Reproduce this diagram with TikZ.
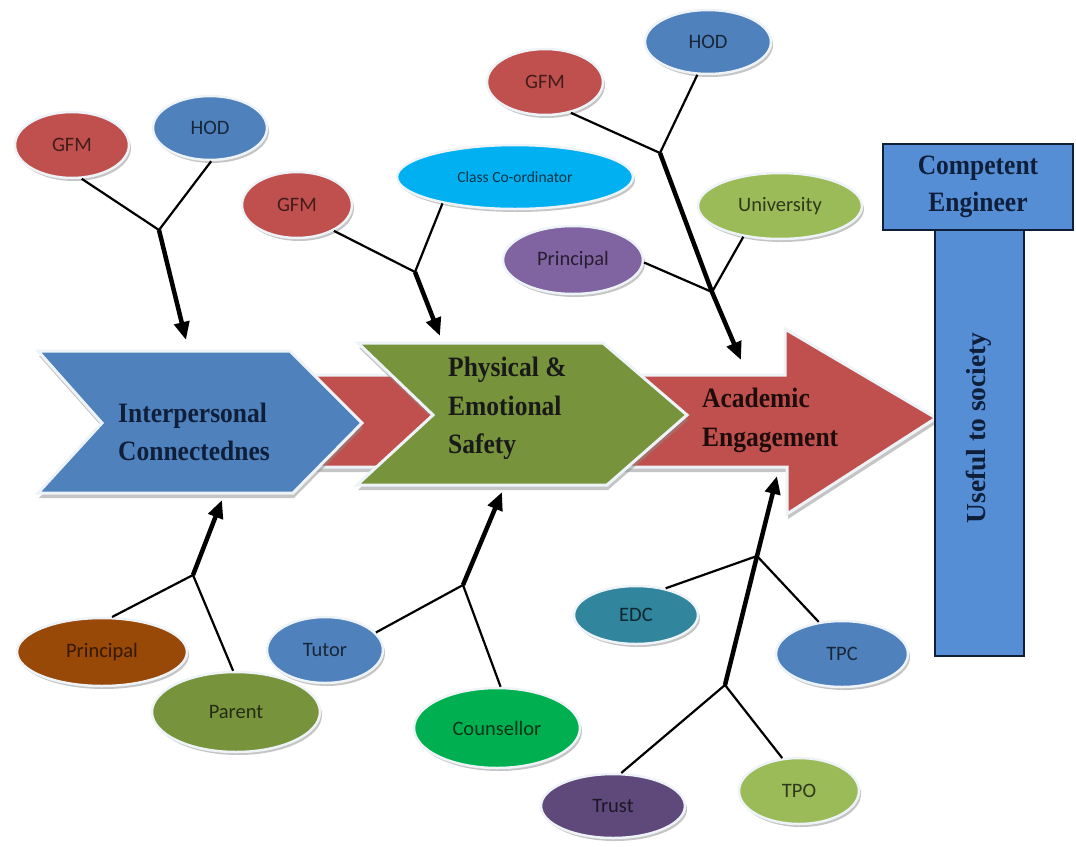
\documentclass[tikz,border=0pt]{standalone}
\usepackage{fontspec}
\setmainfont{Liberation Serif}
\newfontfamily\calib{Carlito}
\usetikzlibrary{shapes.geometric,arrows.meta,shadows}
\definecolor{cred}{HTML}{C0504D}
\definecolor{cblue}{HTML}{4F81BD}
\definecolor{ccyan}{HTML}{00B0F0}
\definecolor{cpurple}{HTML}{8064A2}
\definecolor{clime}{HTML}{9BBB59}
\definecolor{cbrown}{HTML}{984807}
\definecolor{colive}{HTML}{77933C}
\definecolor{cgreen}{HTML}{00B050}
\definecolor{cteal}{HTML}{31859C}
\definecolor{cplum}{HTML}{5F497A}
\definecolor{cbox}{HTML}{558ED5}
\definecolor{cnavy}{HTML}{0F1F3A}
\definecolor{cedge}{HTML}{EEF3F8}
\newcommand{\tall}[1]{\scalebox{1}[1.1]{#1}}
\begin{document}
\begin{tikzpicture}[x=1pt,y=-1pt,
  bub/.style={ellipse, draw=cedge, line width=2.5pt, inner sep=0pt,
    font=\calib\fontsize{20.5}{22}\selectfont,
    drop shadow={shadow xshift=2pt, shadow yshift=-3pt, fill=black!45, opacity=0.5}},
  twig/.style={line width=2.2pt, black},
  trunk/.style={line width=4.5pt, black, -{Triangle[length=18pt,width=15pt]}},
  block/.style={draw=cedge, line width=3pt,
    drop shadow={shadow xshift=1pt, shadow yshift=-5pt, fill=black!45, opacity=0.5}},
  lbl/.style={font=\bfseries\fontsize{25.5}{30}\selectfont, anchor=base west, inner sep=0pt},
  tbox/.style={draw=cnavy, line width=1.2pt, fill=cbox, inner sep=0pt}
]
\useasboundingbox (0,0) rectangle (1076,846);

% ---- block arrows ----
\path[block, fill=cred] (300,375) -- (785,375) -- (785,329) -- (936,418) -- (787,514) -- (787,467) -- (300,467) -- cycle;
\path[block, fill=cblue] (38,351) -- (290,351) -- (362,423) -- (293,493) -- (38,493) -- (102,423) -- cycle;
\path[block, fill=colive] (358,343) -- (603,343) -- (687,415) -- (607,485) -- (357,485) -- (433,415) -- cycle;

\node[lbl, text=cnavy] (ic1) at (118,422) {\tall{Interpersonal}};
\node[lbl, text=cnavy] (ic2) at (118,460) {\tall{Connectednes}};
\node[lbl, text=black!90] (pe1) at (448,376) {\tall{Physical \&}};
\node[lbl, text=black!90] (pe2) at (448,415) {\tall{Emotional}};
\node[lbl, text=black!90] (pe3) at (448,453) {\tall{Safety}};
\node[lbl, text=black!85!cred] (ae1) at (702,407) {\tall{Academic}};
\node[lbl, text=black!85!cred] (ae2) at (702,446) {\tall{Engagement}};

% ---- T box ----
\node[tbox, minimum width=89pt, minimum height=427pt] (bar) at (979.5,442.5) {};
\node[tbox, minimum width=190pt, minimum height=86pt, align=center,
  font=\bfseries\fontsize{25.5}{39}\selectfont, text=cnavy] (ce) at (978,187) {\tall{Competent}\\[-2pt]\tall{Engineer}};
\node[rotate=90, font=\bfseries\fontsize{27.5}{30}\selectfont, text=cnavy, inner sep=0pt] (us) at (979,428) {Useful to society};

% ---- bubbles ----
\node[bub, fill=cred, text=cred!35!black, minimum width=114pt, minimum height=66pt] (gfmA) at (72,145) {GFM};
\node[bub, fill=cblue, text=cblue!30!black, minimum width=114pt, minimum height=64pt] (hodA) at (210,128) {HOD};
\node[bub, fill=cred, text=cred!35!black, minimum width=110pt, minimum height=66pt] (gfmB) at (297,205) {GFM};
\node[bub, fill=ccyan, text=ccyan!30!black, minimum width=236pt, minimum height=64pt,
  font=\calib\fontsize{15.5}{17}\selectfont] (cco) at (515,177) {Class Co-ordinator};
\node[bub, fill=cpurple, text=cpurple!30!black, minimum width=140pt, minimum height=68pt] (prinB) at (573,260) {Principal};
\node[bub, fill=cred, text=cred!35!black, minimum width=116pt, minimum height=66pt] (gfmC) at (545,82) {GFM};
\node[bub, fill=cblue, text=cblue!30!black, minimum width=126pt, minimum height=64pt] (hodC) at (708,42) {HOD};
\node[bub, fill=clime, text=clime!30!black, minimum width=164pt, minimum height=66pt] (univ) at (780,206) {University};
\node[bub, fill=cbrown, text=cbrown!35!black, minimum width=170pt, minimum height=68pt] (prinA) at (102,652) {Principal};
\node[bub, fill=colive, text=colive!30!black, minimum width=168pt, minimum height=80pt] (parent) at (236,712) {Parent};
\node[bub, fill=cblue, text=cblue!30!black, minimum width=116pt, minimum height=66pt] (tutor) at (325,650) {Tutor};
\node[bub, fill=cgreen, text=cgreen!30!black, minimum width=166pt, minimum height=80pt] (couns) at (497,728) {Counsellor};
\node[bub, fill=cteal, text=cteal!30!black, minimum width=124pt, minimum height=58pt] (edc) at (636,615) {EDC};
\node[bub, fill=cblue, text=cblue!30!black, minimum width=132pt, minimum height=66pt] (tpc) at (842,654) {TPC};
\node[bub, fill=cplum, text=cplum!30!black, minimum width=144pt, minimum height=64pt] (trust) at (613,806) {Trust};
\node[bub, fill=clime, text=clime!30!black, minimum width=120pt, minimum height=66pt] (tpo) at (799,791) {TPO};

% ---- junctions and arrow tips ----
\coordinate (jA) at (159,230);   \coordinate (tA) at (186,340);
\coordinate (jB) at (415,272);   \coordinate (tB) at (440,336);
\coordinate (jC1) at (660,153);  \coordinate (jC2) at (712,292); \coordinate (tC) at (741,360);
\coordinate (jD) at (193,575);   \coordinate (tD) at (222,500);
\coordinate (jE) at (463,585);   \coordinate (tE) at (502,492);
\coordinate (jF1) at (757,556);  \coordinate (jF2) at (725,685); \coordinate (tF) at (777,476);

% ---- connectors ----
\draw[twig] (gfmA.-74) -- (jA);
\draw[twig] (hodA.-88) -- (jA);
\draw[trunk] (jA) -- (tA);

\draw[twig] (gfmB.-35) -- (jB);
\draw[twig] (cco.-160) -- (jB);
\draw[trunk] (jB) -- (tB);

\draw[twig] (gfmC.-50) -- (jC1);
\draw[twig] (hodC.-108) -- (jC1);
\draw[twig] (prinB.-2) -- (jC2);
\draw[twig] (univ.-140) -- (jC2);
\draw[trunk] (jC1) -- (jC2) -- (tC);

\draw[twig] (prinA.74) -- (jD);
\draw[twig] (parent.94) -- (jD);
\draw[trunk] (jD) -- (tD);

\draw[twig] (tutor.19) -- (jE);
\draw[twig] (couns.85) -- (jE);
\draw[trunk] (jE) -- (tE);

\draw[twig] (edc.42) -- (jF1);
\draw[twig] (tpc.126) -- (jF1);
\draw[twig] (trust.76) -- (jF2);
\draw[twig] (tpo.117) -- (jF2);
\draw[trunk] (jF2) -- (jF1) -- (tF);
\end{tikzpicture}
\end{document}
